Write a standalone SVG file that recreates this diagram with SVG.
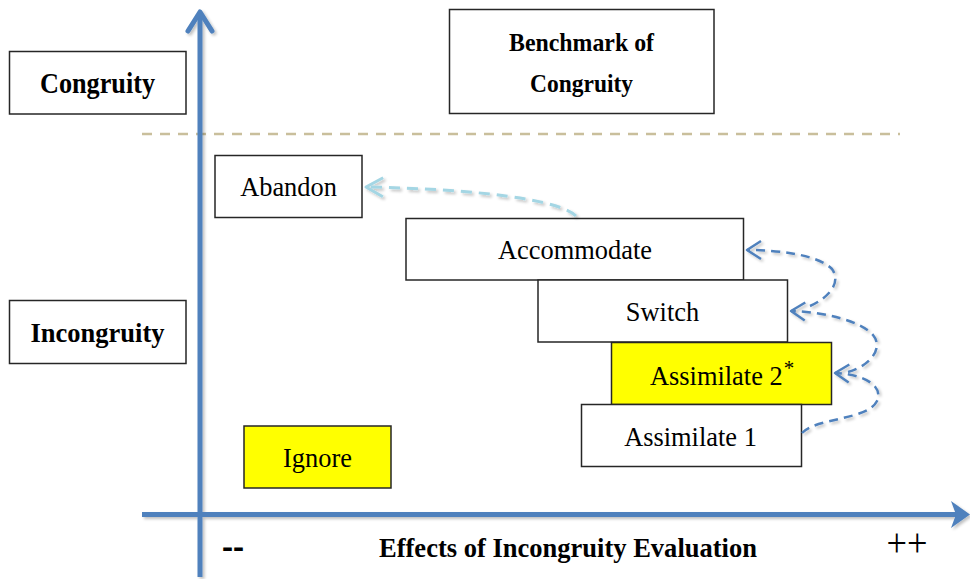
<svg xmlns="http://www.w3.org/2000/svg" width="970" height="579" viewBox="0 0 970 579">
<style>
.box{fill:#fff;stroke:#262626;stroke-width:1.5}
.hl{fill:#ffff00}
.t{font-family:"Liberation Serif","Times New Roman",serif;font-size:26.4px;fill:#000;text-anchor:middle}
.b{font-weight:bold}
.axis{stroke:#4f81bd;stroke-width:5;fill:none}
.dc{fill:none;stroke:#4f81bd;stroke-width:2.5;stroke-dasharray:9 6}
.lc{fill:none;stroke:#a4d6e4;stroke-width:3;stroke-dasharray:11 7}
</style>
<defs>
<filter id="sh" x="-10%" y="-10%" width="130%" height="130%">
<feGaussianBlur in="SourceAlpha" stdDeviation="1.5"/>
<feOffset dx="2" dy="2" result="o"/>
<feComponentTransfer><feFuncA type="linear" slope="0.25"/></feComponentTransfer>
<feMerge><feMergeNode/><feMergeNode in="SourceGraphic"/></feMerge>
</filter>
<marker id="ab" markerUnits="userSpaceOnUse" viewBox="-17 -12 20 24" refX="0" refY="0" markerWidth="20" markerHeight="24" orient="auto">
<path d="M-14,-9 L0,0 L-14,9" fill="none" stroke="#4f81bd" stroke-width="2.5" stroke-linejoin="round"/>
</marker>
<marker id="al" markerUnits="userSpaceOnUse" viewBox="-19 -13 22 26" refX="0" refY="0" markerWidth="22" markerHeight="26" orient="auto">
<path d="M-17,-9.5 L0,0 L-17,9.5" fill="none" stroke="#a4d6e4" stroke-width="3" stroke-linejoin="round"/>
</marker>
</defs>
<rect width="970" height="579" fill="#fff"/>

<g id="dashed-divider">
<line x1="142" y1="134" x2="900" y2="134" stroke="#c9bf9c" stroke-width="2.5" stroke-dasharray="10 8"/>
</g>

<g id="axes" filter="url(#sh)">
<line class="axis" x1="200" y1="577" x2="200" y2="14"/>
<path class="axis" d="M188,31 L200,12 L212,31" stroke-linejoin="round" stroke-linecap="round"/>
<line class="axis" x1="142" y1="514.5" x2="957" y2="514.5"/>
<path d="M970,514.5 L951,501 L956,514.5 L951,528 Z" fill="#4f81bd"/>
</g>

<g id="node-congruity">
<rect class="box" x="9.5" y="51.5" width="176.5" height="62.5"/>
<text class="t b" x="97.5" y="92.5" style="font-size:28.5px" textLength="115" lengthAdjust="spacingAndGlyphs">Congruity</text>
</g>
<g id="node-incongruity">
<rect class="box" x="9.5" y="300.5" width="176.5" height="63"/>
<text class="t b" x="97.5" y="341.5" textLength="134" lengthAdjust="spacingAndGlyphs">Incongruity</text>
</g>
<g id="node-benchmark">
<rect class="box" x="449.5" y="9.5" width="264.5" height="104"/>
<text class="t b" x="581.5" y="50.5" style="font-size:24.5px" textLength="145" lengthAdjust="spacingAndGlyphs">Benchmark of</text>
<text class="t b" x="581.5" y="91.5" style="font-size:25px" textLength="103" lengthAdjust="spacingAndGlyphs">Congruity</text>
</g>
<g id="node-abandon">
<rect class="box" x="215" y="155.5" width="147" height="62"/>
<text class="t" x="288.5" y="196">Abandon</text>
</g>
<g id="node-accommodate">
<rect class="box" x="406" y="218.5" width="337.5" height="61.5"/>
<text class="t" x="575" y="258.5">Accommodate</text>
</g>
<g id="node-switch">
<rect class="box" x="538" y="280" width="249.5" height="62"/>
<text class="t" x="662.5" y="320.5">Switch</text>
</g>
<g id="node-assimilate2">
<rect class="box hl" x="611.5" y="342.5" width="220" height="62"/>
<text class="t" x="650" y="385" style="text-anchor:start">Assimilate 2</text>
<text class="t" x="789" y="375" style="font-size:21px">*</text>
</g>
<g id="node-assimilate1">
<rect class="box" x="581.5" y="404.5" width="220" height="62"/>
<text class="t" x="690.5" y="446">Assimilate 1</text>
</g>
<g id="node-ignore">
<rect class="box hl" x="244" y="426" width="147" height="62"/>
<text class="t" x="317.5" y="467">Ignore</text>
</g>

<g id="axis-labels">
<text class="t b" x="233" y="559" style="font-size:40px" textLength="22" lengthAdjust="spacingAndGlyphs">--</text>
<text class="t b" x="379" y="556.5" style="text-anchor:start" textLength="378" lengthAdjust="spacingAndGlyphs">Effects of Incongruity Evaluation</text>
<text class="t" x="907" y="556" style="font-size:40px" textLength="41" lengthAdjust="spacingAndGlyphs">++</text>
</g>

<g id="connectors" filter="url(#sh)">
<path class="lc" d="M576,216 C560,200 480,189 366,187" marker-end="url(#al)"/>
<path class="dc" d="M802,433 C815,418 868,420 877,401 C884,385 862,374 835,373" marker-end="url(#ab)"/>
<path class="dc" d="M848,372 C870,366 884,348 873,335 C860,320 822,312 791,311" marker-end="url(#ab)"/>
<path class="dc" d="M810,306 C828,298 842,283 832,269 C818,255 780,250 747,250" marker-end="url(#ab)"/>
</g>
</svg>
